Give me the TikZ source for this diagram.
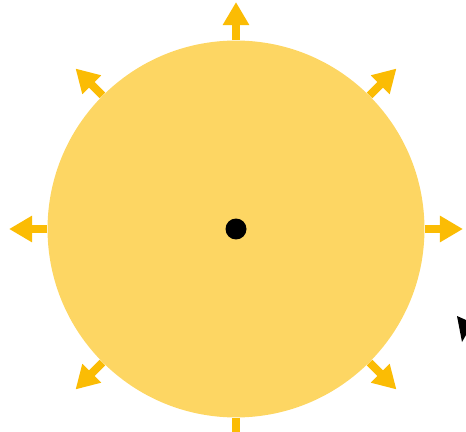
\documentclass[tikz,border=0pt]{standalone}
\usetikzlibrary{arrows.meta}
\definecolor{sunfill}{HTML}{FDD663}
\definecolor{rayyellow}{HTML}{FBBC04}

\begin{document}
\begin{tikzpicture}[x=0.02cm, y=-0.02cm,
        sun/.style={circle, fill=sunfill, minimum size=7.54cm, inner sep=0pt},
        hubdot/.style={circle, fill=black, minimum size=0.42cm, inner sep=0pt},
        ray/.style={-{Triangle[length=0.46cm, width=0.5cm]}, line width=0.16cm, draw=rayyellow}]
        \useasboundingbox (0,0) rectangle (466,432);
        \node[sun] (sun) at (236,229) {};
        \node[hubdot] (hub) at (sun.center) {};

        \foreach \a in {0,45,...,315} {
            \coordinate (tip\a) at ([shift={(\a:4.54cm)}]sun.center);
            \draw[ray] (sun.\a) -- (tip\a);
        }

        % pointer at the right edge
        \fill[black] (457,316) -- (466,320) -- (466,335) -- (462,342) -- cycle;
    \end{tikzpicture}
\end{document}
